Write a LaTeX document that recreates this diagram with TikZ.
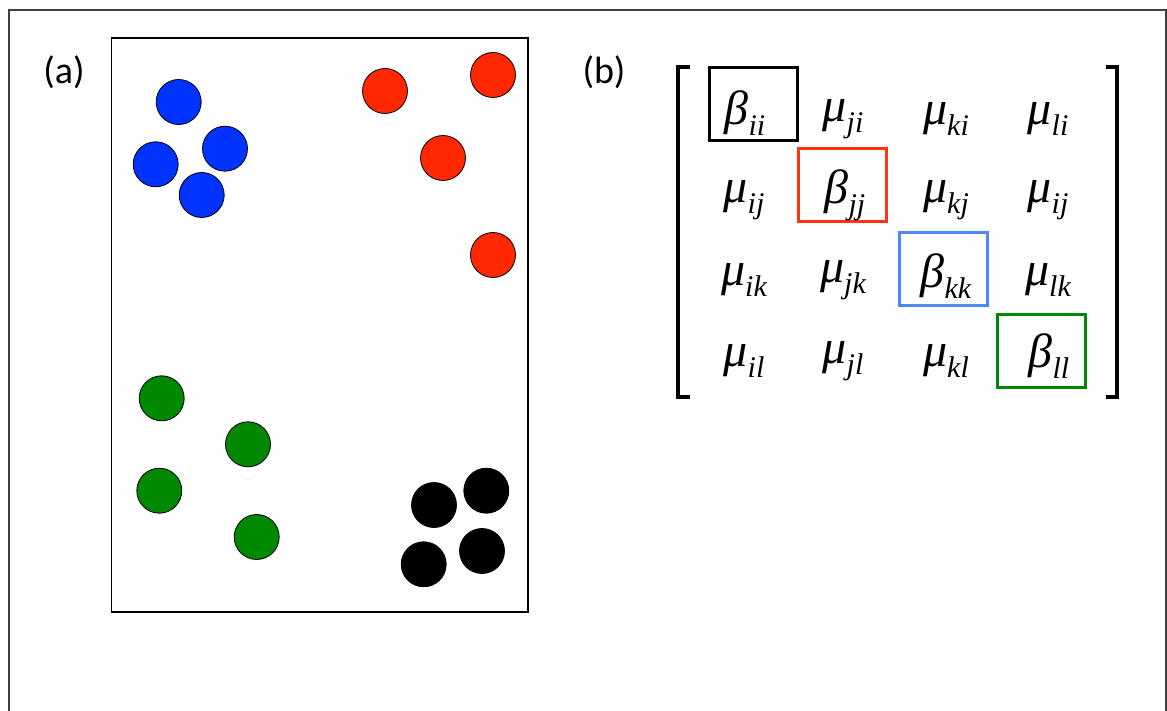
\documentclass[tikz,border=0pt]{standalone}
\usepackage{fontspec}
\setmainfont{Carlito}
\newfontfamily\greekface{Liberation Serif}
\usepackage{tikz}
\usetikzlibrary{positioning}
\definecolor{dotblue}{RGB}{0,51,255}
\definecolor{dotred}{RGB}{255,40,0}
\definecolor{dotgreen}{RGB}{0,136,0}
\definecolor{boxred}{RGB}{255,51,17}
\definecolor{boxblue}{RGB}{77,136,255}
\definecolor{framegray}{RGB}{64,64,64}
% matrix entry: letter with a lowered index
\newcommand{\ent}[2]{{\greekface\itshape\fontsize{48}{48}\selectfont #1\raisebox{-11pt}{\fontsize{30}{30}\selectfont #2}}}

\tikzset{
  dot/.style={circle, draw=black, line width=0.8pt, minimum size=45pt, inner sep=0pt},
  entry/.style={inner sep=0pt, anchor=center},
  diagbox/.style={draw, line width=3pt, minimum width=88pt, minimum height=73pt, inner sep=0pt},
  panel/.style={font=\fontsize{38}{38}\selectfont},
  brk/.style={line width=3.5pt, line cap=rect}
}

\begin{document}
\begin{tikzpicture}[x=1pt,y=-1pt]
\useasboundingbox (0,0) rectangle (1167,711);
\draw[framegray, line width=1.8pt] (9,10) rectangle (1166,740);

% panel (a)
\node[panel] (la) at (64,72) {(a)};
\draw[line width=1.2pt] (111.5,38) rectangle (528,612);

\node[dot, fill=dotblue] (b1) at (178.7,102) {};
\node[dot, fill=dotblue] (b2) at (225,148.7) {};
\node[dot, fill=dotblue] (b3) at (155.7,164.3) {};
\node[dot, fill=dotblue] (b4) at (201.7,195) {};

\node[dot, fill=dotred] (r1) at (385,91) {};
\node[dot, fill=dotred] (r2) at (493,75) {};
\node[dot, fill=dotred] (r3) at (443,158) {};
\node[dot, fill=dotred] (r4) at (493,255) {};

\node[dot, fill=dotgreen] (g1) at (161.7,398.3) {};
\node[dot, fill=dotgreen] (g2) at (248,444.3) {};
\node[dot, fill=dotgreen] (g3) at (159.3,490.7) {};
\node[dot, fill=dotgreen] (g4) at (256.7,537) {};

\node[dot, fill=black] (k1) at (434,505) {};
\node[dot, fill=black] (k2) at (486.3,490.7) {};
\node[dot, fill=black] (k3) at (423.7,564.3) {};
\node[dot, fill=black] (k4) at (482,551) {};

% panel (b)
\node[panel] (lb) at (604,72) {(b)};

\draw[brk] (688,67) -- (678,67) -- (678,397) -- (688,397);
\draw[brk] (1108,67) -- (1117,67) -- (1117,397) -- (1108,397);

\node[diagbox, draw=black] (bxi) at (753.5,104) {};
\node[diagbox, draw=boxred] (bxj) at (842.5,185.5) {};
\node[diagbox, draw=boxblue] (bxk) at (943,269) {};
\node[diagbox, draw=dotgreen] (bxl) at (1041,350.5) {};

\node[entry] (m11) at (745,113) {\ent{β}{ii}};
\node[entry] (m12) at (843,119) {\ent{μ}{ji}};
\node[entry] (m13) at (946,119) {\ent{μ}{ki}};
\node[entry] (m14) at (1048,119) {\ent{μ}{li}};

\node[entry] (m21) at (744,200) {\ent{μ}{ij}};
\node[entry] (m22) at (845,195) {\ent{β}{jj}};
\node[entry] (m23) at (946,200) {\ent{μ}{kj}};
\node[entry] (m24) at (1048,200) {\ent{μ}{ij}};

\node[entry] (m31) at (744,280) {\ent{μ}{ik}};
\node[entry] (m32) at (843,280) {\ent{μ}{jk}};
\node[entry] (m33) at (946,276) {\ent{β}{kk}};
\node[entry] (m34) at (1048,280) {\ent{μ}{lk}};

\node[entry] (m41) at (744,361) {\ent{μ}{il}};
\node[entry] (m42) at (843,361) {\ent{μ}{jl}};
\node[entry] (m43) at (946,361) {\ent{μ}{kl}};
\node[entry] (m44) at (1049,356) {\ent{β}{ll}};
\end{tikzpicture}
\end{document}
